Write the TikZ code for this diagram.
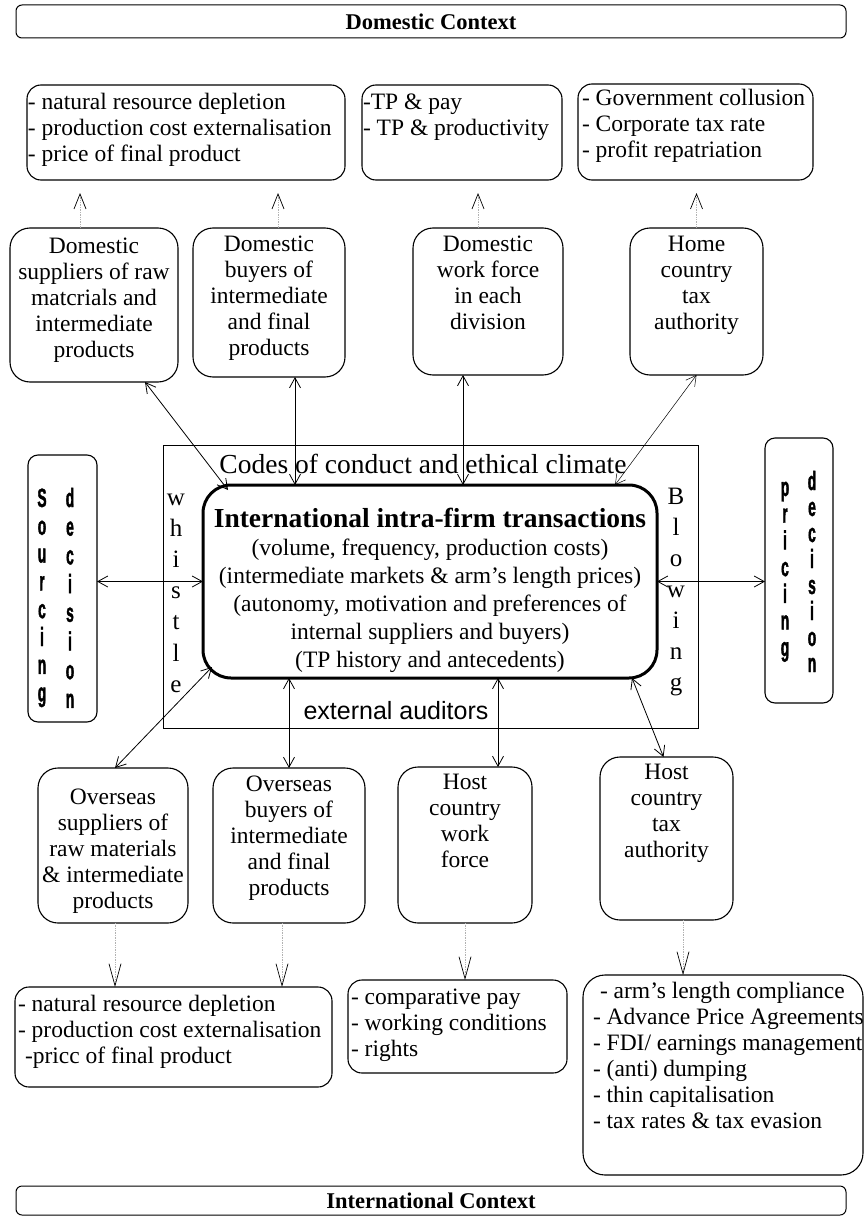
\documentclass[tikz,border=0pt]{standalone}
\usepackage{fontspec}
\setmainfont{Liberation Serif}
\setsansfont{Liberation Sans}
\newfontfamily\narrowsans{Liberation Sans Bold}[FakeStretch=0.6,FakeBold=1.5]
\usetikzlibrary{arrows.meta}

% text pinned to the top of a box: height, width, first baseline, (indent,) rows
\newcommand{\boxc}[4]{\parbox[c][#1pt][t]{#2pt}{\centering
  \vspace*{\dimexpr#3pt-\ht\strutbox\relax}%
  \begin{tabular}[t]{@{}c@{}}#4\end{tabular}}}
\newcommand{\boxl}[5]{\parbox[c][#1pt][t]{#2pt}{\raggedright
  \vspace*{\dimexpr#3pt-\ht\strutbox\relax}%
  \noindent\hspace*{#4pt}\begin{tabular}[t]{@{}l@{}}#5\end{tabular}}}
\newcommand{\tallch}[1]{\scalebox{1}[1.15]{#1}}

\begin{document}
\begin{tikzpicture}[x=1pt, y=-1pt,
  font=\fontsize{23.5}{26}\selectfont,
  every node/.style={inner sep=0pt, outer sep=0pt},
  blk/.style={draw, line width=1.1pt, rounded corners=20pt, anchor=north west},
  cons/.style={draw, line width=1.1pt, rounded corners=14pt, anchor=north west},
  ctx/.style={draw, line width=1pt, rounded corners=6pt, minimum width=830pt,
    font=\fontsize{22.5}{26}\selectfont\bfseries},
  side/.style={draw, line width=1.1pt, rounded corners=10pt, anchor=north west},
  vletter/.style={anchor=base, font=\narrowsans\fontsize{23}{26}\selectfont},
  wletter/.style={anchor=base, font=\fontsize{25}{26}\selectfont},
  link/.style={{Straight Barb[length=10pt,width=11pt]}-{Straight Barb[length=10pt,width=11pt]}, line width=0.8pt},
  effect/.style={densely dotted, gray!60, line width=0.7pt,
    -{Straight Barb[length=#1,width=12pt,color=black,line width=0.7pt]}},
  effect/.default=18pt]

  \useasboundingbox (0,0) rectangle (865,1220);

  % contexts
  \node[ctx, minimum height=33pt] (dom) at (431,21.5) {Domestic Context};
  \node[ctx, minimum height=29pt] (intl) at (431,1200.5) {International Context};

  % domestic consequences
  \node[cons] (a1) at (27,85) {\boxl{95}{318}{24}{1}{- natural resource depletion\\
    - production cost externalisation\\ - price of final product}};
  \node[cons] (a2) at (362,85) {\boxl{95}{200}{24}{1}{-TP \& pay\\ - TP \& productivity}};
  \node[cons] (a3) at (578,84) {\boxl{96}{235}{22}{4}{- Government collusion\\
    - Corporate tax rate\\ - profit repatriation}};

  % domestic stakeholders
  \node[blk] (d1) at (10,228) {\boxc{154}{168}{25}{Domestic\\ suppliers of raw\\
    matcrials and\\ intermediate\\ products}};
  \node[blk] (d2) at (193,228) {\boxc{149}{152}{23}{Domestic\\ buyers of\\
    intermediate\\ and final\\ products}};
  \node[blk] (d3) at (413,228) {\boxc{147}{150}{23}{Domestic\\ work force\\ in each\\ division}};
  \node[blk] (d4) at (630,228) {\boxc{147}{133}{23}{Home\\ country\\ tax\\ authority}};

  % ethical climate frame and transactions
  \node[draw, line width=0.9pt, anchor=north west, minimum width=535pt,
    minimum height=283pt] (frame) at (163,445) {};
  \node[anchor=base, font=\fontsize{27.5}{28}\selectfont] (codes) at (423,473)
    {Codes of conduct and ethical climate};
  \node[anchor=base, font=\sffamily\fontsize{25}{26}\selectfont] (audit) at (396,719)
    {external auditors};
  \node[draw, line width=3pt, rounded corners=28pt, anchor=north west,
    font=\fontsize{23.5}{28}\selectfont] (core) at (203,485)
    {\boxc{193}{454}{42}{{\fontsize{27.5}{28}\selectfont\bfseries International intra-firm transactions}\\
    (volume, frequency, production costs)\\
    (intermediate markets \& arm's length prices)\\
    (autonomy, motivation and preferences of\\
    internal suppliers and buyers)\\
    (TP history and antecedents)}};

  \foreach \ch [count=\i] in {w,h,i,s,t,l,e}
    \node[wletter] (w\i) at (176,473.8+31.2*\i) {\ch};
  \foreach \ch [count=\i] in {B,l,o,w,i,n,g}
    \node[wletter] (b\i) at (676,473+31*\i) {\ch};

  % decisions
  \node[side, minimum width=69pt, minimum height=267pt] (src) at (28,455) {};
  \foreach \ch [count=\i] in {S,o,u,r,c,i,n,g}
    \node[vletter] (s\i) at (42,479.2+27.8*\i) {\tallch{\ch}};
  \foreach \ch [count=\i] in {d,e,c,i,s,i,o,n}
    \node[vletter] (sd\i) at (70,478.3+28.7*\i) {\tallch{\ch}};
  \node[side, minimum width=68pt, minimum height=265pt] (prc) at (765,438) {};
  \foreach \ch [count=\i] in {p,r,i,c,i,n,g}
    \node[vletter] (p\i) at (785,469.3+26.7*\i) {\tallch{\ch}};
  \foreach \ch [count=\i] in {d,e,c,i,s,i,o,n}
    \node[vletter] (pd\i) at (812,464+26*\i) {\tallch{\ch}};

  % overseas stakeholders
  \node[blk] (o1) at (38,768) {\boxc{155}{150}{36}{Overseas\\ suppliers of\\
    raw materials\\ \& intermediate\\ products}};
  \node[blk] (o2) at (213,768) {\boxc{155}{152}{23}{Overseas\\ buyers of\\
    intermediate\\ and final\\ products}};
  \node[blk] (o3) at (398,767) {\boxc{156}{134}{22}{Host\\ country\\ work\\ force}};
  \node[blk] (o4) at (600,757) {\boxc{163}{133}{22}{Host\\ country\\ tax\\ authority}};

  % international consequences
  \node[cons] (e1) at (15,987) {\boxl{100}{317}{24}{3}{- natural resource depletion\\
    - production cost externalisation\\ \hspace{7pt}-pricc of final product}};
  \node[cons] (e2) at (348,980) {\boxl{93}{219}{24}{3}{- comparative pay\\
    - working conditions\\ - rights}};
  \node[cons, rounded corners=22pt] (e3) at (583,975) {\boxl{200}{280}{23}{10}{\hspace{7pt}- arm's length compliance\\
    - Advance Price Agreements\\ - FDI/ earnings management\\ - (anti) dumping\\
    - thin capitalisation\\ - tax rates \& tax evasion}};

  % links to the transactions
  \draw[link] (src.east |- core.west) -- (core.west);
  \draw[link] (core.east) -- (core.east -| prc.west);
  \draw[link] ([xshift=51pt]d1.south) -- ([xshift=25pt,yshift=-5pt]core.north west);
  \coordinate (d2a) at ([xshift=26pt]d2.south);
  \draw[link] (d2a) -- (d2a |- core.north);
  \coordinate (d3a) at ([xshift=-25pt]d3.south);
  \draw[link] (d3a) -- (d3a |- core.north);
  \draw[link, line width=0.5pt] (d4.south) -- ([xshift=-42pt]core.north east);
  \draw[link] ([xshift=9pt,yshift=11pt]core.south west) -- ([xshift=2pt]o1.north);
  \draw[link] (o2.north |- core.south) -- (o2.north);
  \coordinate (o3a) at ([xshift=33pt]o3.north);
  \draw[link] (o3a |- core.south) -- (o3a);
  \draw[link] ([xshift=-25pt]core.south east) -- ([xshift=-3pt]o4.north);

  % effects
  \coordinate (t1) at ([xshift=-14pt]d1.north);
  \coordinate (t2) at ([xshift=9pt]d2.north);
  \coordinate (t3) at ([xshift=-10pt]d3.north);
  \coordinate (t4) at (d4.north);
  \draw[effect=15pt, shorten >=13pt] (t1) -- (t1 |- a1.south);
  \draw[effect=15pt, shorten >=13pt] (t2) -- (t2 |- a1.south);
  \draw[effect=15pt, shorten >=13pt] (t3) -- (t3 |- a2.south);
  \draw[effect=15pt, shorten >=13pt] (t4) -- (t4 |- a3.south);
  \coordinate (u1) at ([xshift=2pt]o1.south);
  \coordinate (u2) at ([xshift=-7pt]o2.south);
  \coordinate (u3) at (o3.south);
  \coordinate (u4) at ([xshift=16.5pt]o4.south);
  \draw[effect=22pt] (u1) -- (u1 |- e1.north);
  \draw[effect=22pt] (u2) -- (u2 |- e1.north);
  \draw[effect=22pt] (u3) -- (u3 |- e2.north);
  \draw[effect=22pt] (u4) -- (u4 |- e3.north);

\end{tikzpicture}
\end{document}
